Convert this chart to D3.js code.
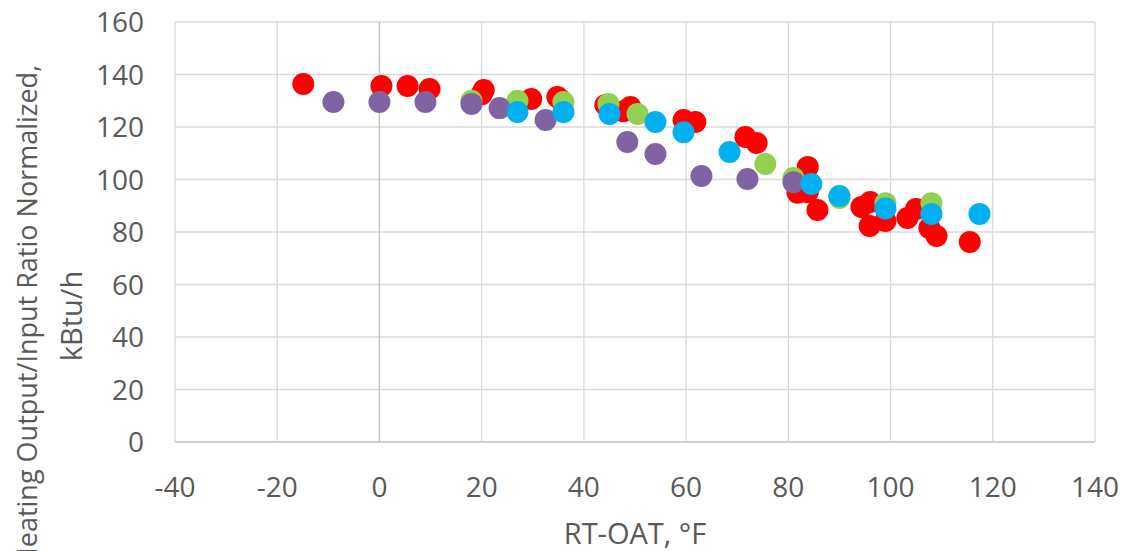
<!DOCTYPE html>
<html>
<head>
<meta charset="utf-8">
<script src="https://cdn.jsdelivr.net/npm/d3@7"></script>
<style>
  body { margin: 0; background: #fff; }
  text { font-family: "Open Sans", "Noto Sans", sans-serif; fill: #595959; }
</style>
</head>
<body>
<div id="chart"></div>
<script>
// x = RT-OAT (°F), y = output/input ratio normalized (kBtu/h)
const redX = [-14.9, 0.4, 5.5, 9.8, 20.4, 20.0, 29.7, 34.8, 35.5, 44.2, 47.7, 49.1, 59.5, 61.8, 71.6, 73.8, 83.8, 81.8, 83.8, 85.7, 94.3, 96.0, 95.9, 99.0, 103.3, 105.0, 107.6, 109.0, 115.5];
const redY = [136.4, 135.6, 135.6, 134.5, 134.1, 132.5, 130.7, 131.4, 130.3, 128.4, 126.0, 127.6, 122.7, 121.9, 116.2, 113.9, 104.8, 95.0, 95.2, 88.4, 89.5, 91.4, 82.3, 84.2, 85.3, 88.8, 81.5, 78.5, 76.2];

const greenX = [18.0, 27.0, 36.0, 44.8, 50.5, 75.5, 81.0, 90.0, 99.0, 108.0];
const greenY = [130.0, 130.0, 129.5, 128.8, 125.0, 105.9, 100.6, 93.0, 91.0, 91.0];

const purpleX = [-9.0, 0.0, 9.0, 18.0, 23.5, 32.5, 48.5, 54.0, 63.0, 72.0, 81.0];
const purpleY = [129.5, 129.5, 129.5, 128.8, 127.2, 122.7, 114.3, 109.7, 101.3, 100.2, 99.0];

const blueX = [27.0, 36.0, 45.0, 54.0, 59.5, 68.5, 84.5, 90.0, 99.0, 108.0, 117.4];
const blueY = [125.7, 125.7, 125.0, 121.9, 118.0, 110.5, 98.3, 93.7, 89.0, 86.9, 86.9];

const xTicks = [-40, -20, 0, 20, 40, 60, 80, 100, 120, 140];
const yTicks = [0, 20, 40, 60, 80, 100, 120, 140, 160];

const series = [
  { x: redX, y: redY, color: "#FF0000" },
  { x: greenX, y: greenY, color: "#92D050" },
  { x: purpleX, y: purpleY, color: "#8064A2" },
  { x: blueX, y: blueY, color: "#00B0F0" }
];

const width = 1125, height = 551;
const margin = { top: 22, right: 30, bottom: 109, left: 175 };

const svg = d3.select("#chart").append("svg")
  .attr("width", width)
  .attr("height", height);

const x = d3.scaleLinear().domain([-40, 140]).range([margin.left, width - margin.right]);
const y = d3.scaleLinear().domain([0, 160]).range([height - margin.bottom, margin.top]);

// grid
svg.append("g")
  .selectAll("line")
  .data(yTicks)
  .join("line")
  .attr("x1", x(-40)).attr("x2", x(140))
  .attr("y1", d => y(d)).attr("y2", d => y(d))
  .attr("stroke", d => d === 0 ? "#BFBFBF" : "#D9D9D9")
  .attr("stroke-width", 1.3);

svg.append("g")
  .selectAll("line")
  .data(xTicks)
  .join("line")
  .attr("x1", d => x(d)).attr("x2", d => x(d))
  .attr("y1", y(0)).attr("y2", y(160))
  .attr("stroke", d => d === 0 ? "#BFBFBF" : "#D9D9D9")
  .attr("stroke-width", 1.3);

// tick labels
svg.append("g")
  .selectAll("text")
  .data(yTicks)
  .join("text")
  .attr("x", 144)
  .attr("y", d => y(d))
  .attr("dy", "0.36em")
  .attr("text-anchor", "end")
  .attr("font-size", 28)
  .text(d => d);

svg.append("g")
  .selectAll("text")
  .data(xTicks)
  .join("text")
  .attr("x", d => x(d))
  .attr("y", 497)
  .attr("text-anchor", "middle")
  .attr("font-size", 28)
  .text(d => d);

// axis titles
svg.append("text")
  .attr("x", (x(-40) + x(140)) / 2)
  .attr("y", 544)
  .attr("text-anchor", "middle")
  .attr("font-size", 29)
  .text("RT-OAT, °F");

// the first line runs past the bottom edge, as in the original
const yTitle = svg.append("text")
  .attr("transform", "translate(0,316) rotate(-90)")
  .attr("text-anchor", "middle")
  .attr("font-size", 27);
yTitle.append("tspan").attr("x", 0).attr("y", 37).text("Heating Output/Input Ratio Normalized,");
yTitle.append("tspan").attr("x", 0).attr("y", 82).attr("font-size", 29).text("kBtu/h");

// points
series.forEach(s => {
  svg.append("g")
    .attr("fill", s.color)
    .selectAll("circle")
    .data(d3.range(s.x.length))
    .join("circle")
    .attr("cx", i => x(s.x[i]))
    .attr("cy", i => y(s.y[i]))
    .attr("r", 11);
});
</script>
</body>
</html>
